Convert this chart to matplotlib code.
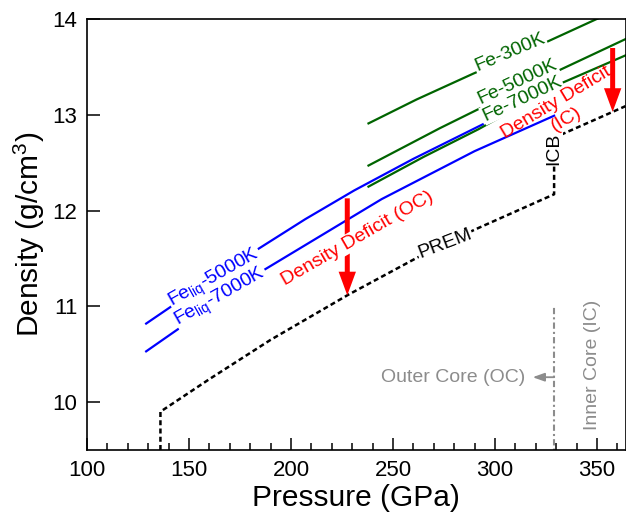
import numpy as np
import matplotlib
matplotlib.use('Agg')
import matplotlib.pyplot as plt
from matplotlib.ticker import MultipleLocator

matplotlib.rcParams['font.family'] = ['Liberation Sans', 'DejaVu Sans']
matplotlib.rcParams['mathtext.fontset'] = 'custom'
matplotlib.rcParams['mathtext.rm'] = 'Liberation Sans'
matplotlib.rcParams['mathtext.it'] = 'Liberation Sans:italic'
matplotlib.rcParams['mathtext.bf'] = 'Liberation Sans:bold'

# PREM (outer core + inner core), pressure in GPa, density in g/cm^3
prem_p = [136, 136, 160, 190, 228, 262, 290, 329, 329, 364]
prem_rho = [9.5, 9.90, 10.24, 10.65, 11.12, 11.51, 11.80, 12.17, 12.76, 13.09]

# liquid iron
liq5000_p = [129, 160, 184, 207, 231, 260, 294]
liq5000_rho = [10.82, 11.27, 11.60, 11.91, 12.21, 12.54, 12.90]
liq7000_p = [129, 160, 186, 244.5, 290, 329]
liq7000_rho = [10.53, 10.99, 11.37, 12.12, 12.62, 12.99]

# solid iron
fe300_p = [238, 261.6, 289.4, 325.3, 349.9, 364]
fe300_rho = [12.91, 13.16, 13.43, 13.76, 14.00, 14.12]
fe5000_p = [238, 273, 292, 331, 364]
fe5000_rho = [12.47, 12.86, 13.06, 13.46, 13.79]
fe7000_p = [238, 265, 292, 332.6, 364]
fe7000_rho = [12.25, 12.56, 12.85, 13.33, 13.62]

icb_p = 329
oc_deficit_p = 227.6
ic_deficit_p = 357.7

blue = '#0000ff'
green = '#006400'
red = '#ff0000'
gray = '#8c8c8c'

fig = plt.figure(figsize=(6.26, 5.19), dpi=100)
ax = fig.add_axes([87 / 626, 1 - 450 / 519, 538.5 / 626, 431 / 519])

ax.plot(prem_p, prem_rho, color='black', lw=1.8, dashes=(2, 1.3), zorder=2)
ax.plot(liq5000_p, liq5000_rho, color=blue, lw=1.6, zorder=2)
ax.plot(liq7000_p, liq7000_rho, color=blue, lw=1.6, zorder=2)
ax.plot(fe300_p, fe300_rho, color=green, lw=1.6, zorder=2)
ax.plot(fe5000_p, fe5000_rho, color=green, lw=1.6, zorder=2)
ax.plot(fe7000_p, fe7000_rho, color=green, lw=1.6, zorder=2)

# ICB line and core regions
ax.plot([icb_p, icb_p], [9.4, 11.0], color=gray, lw=1.5, dashes=(3, 1.5, 1, 1.5), zorder=1)
ax.annotate('', xy=(icb_p - 10.5, 10.26), xytext=(icb_p, 10.26),
            arrowprops=dict(arrowstyle='-|>,head_length=0.7,head_width=0.25',
                            color=gray, lw=1.3, shrinkA=0, shrinkB=0))
ax.text(314.7, 10.26, 'Outer Core (OC)', ha='right', va='center', color=gray, fontsize=14)
ax.text(348, 10.39, 'Inner Core (IC)', rotation=90, ha='center', va='center',
        color=gray, fontsize=14)

# density deficit arrows
arr = dict(arrowstyle='simple,head_length=17,head_width=12.5,tail_width=3.6',
           mutation_scale=1, fc=red, ec='none', lw=0, shrinkA=0, shrinkB=0)
top = np.interp(oc_deficit_p, liq5000_p, liq5000_rho) - 0.04
tip = np.interp(oc_deficit_p, prem_p[1:8], prem_rho[1:8])
ax.annotate('', xy=(oc_deficit_p, tip), xytext=(oc_deficit_p, top), arrowprops=arr,
            annotation_clip=False).set_zorder(2)
top = np.interp(ic_deficit_p, fe5000_p, fe5000_rho) - 0.03
tip = np.interp(ic_deficit_p, prem_p[8:], prem_rho[8:])
ax.annotate('', xy=(ic_deficit_p, tip), xytext=(ic_deficit_p, top), arrowprops=arr,
            annotation_clip=False).set_zorder(6)


def label(x, y, s, color, rot, size=14, box=True, **kw):
    # white box under every label, glyphs on top of all boxes
    kw.update(ha='center', va='center', fontsize=size, rotation=rot,
              rotation_mode='anchor')
    if box:
        ax.text(x, y, s, color='white', zorder=3,
                bbox=dict(boxstyle='square,pad=0.05', fc='white', ec='none'), **kw)
    ax.text(x, y, s, color=color, zorder=5, **kw)


label(307.4, 13.65, 'Fe-300K', green, 23)
label(310.8, 13.34, 'Fe-5000K', green, 25)
label(313.2, 13.17, 'Fe-7000K', green, 25)
label(162.7, 11.29, r'Fe$_\mathrm{liq}$-5000K', blue, 29.5)
label(165.6, 11.09, r'Fe$_\mathrm{liq}$-7000K', blue, 29.5)
label(232.5, 11.71, 'Density Deficit (OC)', red, 30)
label(332.5, 13.04, 'Density Deficit\n(IC)', red, 31, box=False, linespacing=1.15)
label(275.5, 11.65, 'PREM', 'black', 21)
label(328.6, 12.64, 'ICB', 'black', 90)

ax.set_xlim(100, 364)
ax.set_ylim(9.5, 14)
ax.xaxis.set_major_locator(MultipleLocator(50))
ax.xaxis.set_minor_locator(MultipleLocator(10))
ax.yaxis.set_major_locator(MultipleLocator(1))
ax.tick_params(which='both', direction='in', top=False, right=False,
               labelsize=16, width=1.1, pad=7)
ax.tick_params(which='major', length=9)
ax.tick_params(which='minor', length=5)
for s in ax.spines.values():
    s.set_linewidth(1.2)

ax.set_xlabel('Pressure (GPa)', fontsize=21.5, labelpad=2)
ax.set_ylabel('Density (g/cm$^3$)', fontsize=21.5, labelpad=4)

plt.savefig('out.png', dpi=100)
